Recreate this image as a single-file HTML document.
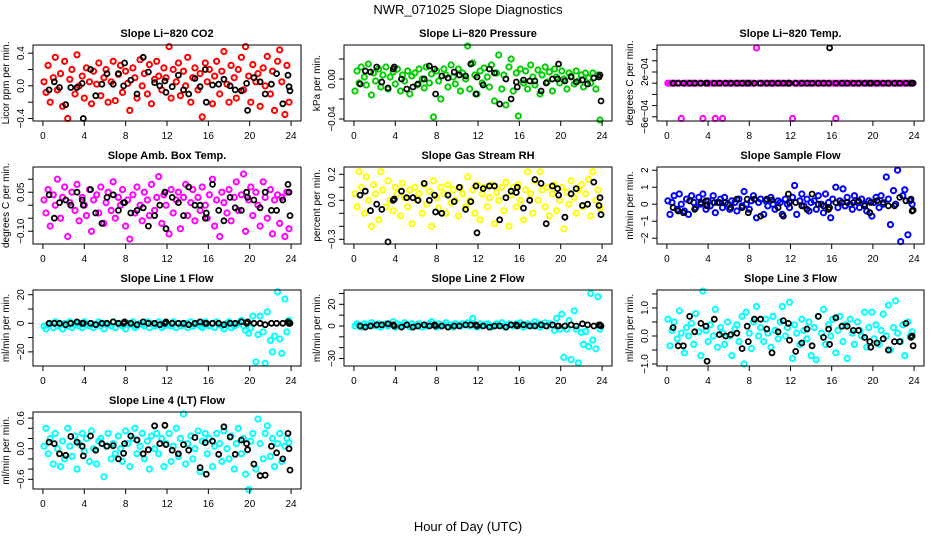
<!DOCTYPE html>
<html><head><meta charset="utf-8"><style>
html,body{margin:0;padding:0;background:#fff}
svg{display:block;font-family:"Liberation Sans",sans-serif}
</style></head><body>
<svg id="chart" width="936" height="540" viewBox="0 0 936 540"></svg>
<script>
// ---- shared time axes (hours UTC) ----
const hours=[0.1,0.3,0.5,0.7,1.0,1.2,1.4,1.7,1.9,2.1,2.4,2.6,2.8,3.1,3.3,3.5,3.8,4.0,4.2,4.5,4.7,4.9,5.2,5.4,5.6,5.9,6.1,6.3,6.6,6.8,7.0,7.3,7.5,7.7,8.0,8.2,8.4,8.7,8.9,9.1,9.4,9.6,9.8,10.1,10.3,10.5,10.8,11.0,11.2,11.5,11.7,11.9,12.2,12.4,12.6,12.9,13.1,13.3,13.6,13.8,14.0,14.3,14.5,14.7,15.0,15.2,15.4,15.7,15.9,16.1,16.4,16.6,16.8,17.1,17.3,17.5,17.8,18.0,18.2,18.5,18.7,18.9,19.2,19.4,19.6,19.9,20.1,20.3,20.6,20.8,21.0,21.3,21.5,21.7,22.0,22.2,22.4,22.7,22.9,23.1,23.4,23.6,23.8];
const blackHours=[0.6,1.1,1.6,2.2,2.7,3.3,3.8,3.9,4.6,5.1,5.7,6.2,6.8,7.3,7.8,7.9,8.5,9.1,9.7,10.2,10.8,11.3,11.8,11.9,12.5,13.1,13.6,14.1,14.7,15.2,15.7,15.8,16.4,17.0,17.5,18.1,18.6,19.2,19.7,19.8,20.4,21.0,21.5,22.1,22.6,23.2,23.7,23.8,23.9];
const xTicks=[0,4,8,12,16,20,24];

// ---- panel 1: CO2 ----
const co2Vals=[0.05,-0.08,0.25,-0.2,0.1,0.35,-0.05,0.15,-0.25,0.3,-0.4,0.08,0.2,-0.1,0.38,0.0,0.12,-0.15,0.22,0.05,-0.22,0.18,0.02,0.28,-0.12,0.1,0.2,-0.2,0.05,0.3,-0.18,0.14,0.25,-0.08,0.18,0.03,-0.3,0.22,0.1,-0.15,0.32,0.0,0.15,-0.1,0.26,-0.22,0.08,0.3,0.12,-0.05,0.22,0.1,0.48,-0.15,0.2,0.05,0.28,-0.12,0.18,0.0,0.35,-0.2,0.1,0.22,-0.05,0.15,-0.38,0.28,0.05,0.2,-0.22,0.12,0.3,-0.1,0.18,0.42,0.02,-0.2,0.25,0.1,-0.15,0.2,0.35,-0.05,0.48,0.12,-0.2,0.26,0.05,0.15,-0.25,0.22,0.0,0.36,-0.1,0.18,-0.3,0.3,0.44,0.05,-0.35,0.25,-0.2];
const co2Black=[-0.05,0.05,-0.02,-0.23,-0.02,-0.02,0.03,-0.4,0.2,-0.12,0.02,0.15,0.02,0.15,0.0,0.28,0.07,-0.1,0.35,0.17,0.04,0.0,0.06,-0.08,-0.01,0.13,-0.05,-0.1,0.09,-0.01,0.2,-0.2,0.01,0.02,0.08,0.0,-0.05,-0.06,0.03,-0.3,0.1,0.05,-0.1,0.02,0.15,-0.22,0.13,-0.01,-0.06];
const co2Ticks=[-0.4,-0.2,0,0.2,0.4];
const co2TickLabels=["\u22120.4","","0.0","","0.4"];

// ---- panel 2: pressure ----
const presVals=[-0.012,0.008,-0.004,0.012,0.002,-0.006,0.015,-0.016,0.006,-0.002,0.01,-0.008,0.004,0.012,-0.01,0.002,0.007,-0.005,0.01,-0.012,0.004,-0.002,0.008,-0.015,0.003,0.006,-0.006,0.01,0.0,-0.009,0.012,-0.004,0.005,-0.038,0.008,-0.002,-0.02,0.01,0.004,-0.008,0.014,0.002,-0.005,0.01,-0.012,0.006,0.0,0.033,-0.01,0.016,0.004,-0.015,0.008,-0.004,0.011,0.002,-0.008,0.014,-0.022,0.006,0.024,-0.01,0.004,-0.026,0.012,0.02,-0.012,0.006,-0.037,0.01,-0.004,0.008,-0.01,0.014,0.002,-0.006,0.009,-0.015,0.004,0.012,-0.003,0.007,-0.012,0.01,0.002,-0.004,0.008,0.0,-0.01,0.006,0.003,-0.005,0.008,-0.002,0.004,-0.008,0.006,0.001,-0.004,0.006,-0.01,0.004,-0.041];
const presBlack=[-0.005,0.008,0.007,0.012,-0.003,-0.009,0.01,0.012,0.0,-0.01,-0.008,-0.005,0.0,0.013,0.01,-0.015,0.003,0.001,0.007,0.004,0.003,0.015,-0.015,0.002,-0.006,0.01,0.006,-0.025,0.0,-0.02,-0.003,-0.008,-0.001,-0.002,-0.002,-0.012,-0.004,0.0,0.0,0.015,-0.002,0.002,-0.003,-0.001,-0.005,0.001,0.002,0.004,-0.022];
const presTicks=[-0.04,-0.02,0,0.02];
const presTickLabels=["\u22120.04","","0.00",""];

// ---- panel 3: Li-820 temp ----
const tempVals=[0,0,0,0,0,0,-0.00063,0,0,0, 0,0,0,0,0,-0.00063,0,0,0,0, -0.00063,0,0,-0.00063,0,0,0,0,0,0, 0,0,0,0,0,0,0,0.00063,0,0, 0,0,0,0,0,0,0,0,0,0, 0,0,-0.00063,0,0,0,0,0,0,0, 0,0,0,0,0,0,0,0,0,0, -0.00063,0,0,0,0,0,0,0,0,0, 0,0,0,0,0,0,0,0,0,0, 0,0,0,0,0,0,0,0,0,0, 0,0,0];
const tempBlack=[0,0,0,0,0,0,0,0,0,0, 0,0,0,0,0,0,0,0,0,0, 0,0,0,0,0,0,0,0,0,0, 0,0.00063,0,0,0,0,0,0,0,0, 0,0,0,0,0,0,0,0,0];
const tempTicks=[-0.0006,-0.0004,-0.0002,0,0.0002,0.0004,0.0006];
const tempTickLabels=["\u22126e\u221204","","","","2e\u221204","",""];

// ---- panel 4: amb box temp ----
const ambVals=[0.02,-0.03,0.06,-0.08,0.04,0.0,0.1,-0.05,0.03,0.07,-0.12,0.01,0.05,-0.02,0.08,-0.06,0.03,0.0,-0.04,0.06,-0.1,0.02,0.04,-0.03,0.07,-0.07,0.01,0.05,-0.02,0.09,-0.05,0.03,0.0,0.06,-0.08,0.02,-0.13,0.04,-0.03,0.07,0.0,-0.06,0.05,0.02,-0.04,0.08,-0.02,0.03,0.11,-0.07,0.04,0.0,-0.11,0.06,-0.03,0.02,0.05,-0.09,0.03,0.08,-0.04,0.01,0.06,-0.06,0.03,-0.02,0.07,0.0,-0.05,0.04,0.1,-0.08,0.02,-0.12,0.05,0.01,-0.03,0.06,-0.06,0.03,0.09,-0.02,0.04,0.12,-0.1,0.02,0.07,-0.04,0.05,0.0,-0.08,0.09,0.03,-0.05,0.06,-0.11,0.02,0.04,-0.07,0.03,-0.12,0.05,-0.09];
const ambBlack=[0.04,-0.05,0.01,0.02,0.0,0.05,0.02,0.0,0.06,-0.03,-0.07,0.03,0.04,-0.02,0.01,0.01,-0.03,-0.02,-0.01,-0.08,-0.04,0.0,0.05,-0.09,0.03,0.01,-0.04,0.07,0.0,0.0,-0.05,-0.03,0.08,-0.02,-0.06,0.03,-0.01,-0.02,0.05,0.03,0.02,-0.01,0.05,-0.02,-0.02,0.02,0.08,0.05,-0.04];
const ambTicks=[-0.1,-0.05,0,0.05,0.1];
const ambTickLabels=["\u22120.10","","","0.05",""];

// ---- panel 5: gas stream RH ----
const rhVals=[0.05,-0.05,0.22,0.1,-0.1,0.18,0.0,-0.2,0.12,0.05,-0.15,0.22,0.08,-0.05,0.15,0.0,-0.08,0.1,0.05,-0.12,0.13,0.02,-0.05,0.08,-0.18,0.1,0.0,0.05,-0.1,0.12,-0.03,0.07,-0.2,0.15,0.02,-0.06,0.1,0.05,-0.1,0.12,-0.02,0.08,0.0,-0.12,0.1,0.05,-0.05,0.18,0.0,0.08,-0.1,0.12,-0.15,0.05,0.1,-0.05,0.02,0.12,-0.18,0.06,0.0,0.1,-0.08,0.14,-0.2,0.04,0.1,-0.05,0.12,0.0,-0.15,0.08,0.22,0.05,-0.1,0.15,0.0,0.22,0.08,-0.05,0.1,-0.12,0.05,0.12,-0.08,0.0,0.1,-0.22,0.06,-0.03,0.15,0.02,-0.1,0.08,0.12,-0.05,0.05,0.16,-0.12,0.22,0.0,0.08,-0.06];
const rhBlack=[0.04,0.07,-0.08,-0.03,-0.07,-0.32,0.0,0.01,0.07,0.02,0.02,0.0,0.13,0.0,0.04,-0.09,-0.1,0.04,-0.01,0.1,-0.07,-0.01,0.11,-0.25,0.09,0.11,0.11,-0.15,0.02,0.07,0.06,0.1,-0.06,0.0,0.16,0.13,-0.18,0.11,0.09,0.04,-0.13,0.05,0.09,-0.04,-0.03,0.14,-0.04,0.02,-0.11];
const rhTicks=[-0.3,-0.2,-0.1,0,0.1,0.2];
const rhTickLabels=["\u22120.3","","","0.0","","0.2"];

// ---- panel 6: sample flow ----
const sampVals=[0.2,-0.6,0.1,0.5,-0.3,0.6,0.0,-0.4,0.3,-0.6,0.5,0.1,-0.2,0.4,0.0,0.6,-0.3,0.2,-0.1,0.5,-0.5,0.1,0.3,-0.2,0.4,0.0,-0.3,0.2,0.1,-0.4,0.3,-0.1,0.75,0.0,-0.3,0.2,0.5,-0.8,0.1,0.3,-0.6,0.2,-0.1,0.4,0.0,-0.3,0.2,0.1,-0.6,0.3,0.0,-0.2,0.4,1.1,-0.6,0.2,0.6,-0.1,0.3,-0.4,0.1,0.2,-0.3,0.5,0.0,-0.5,0.6,0.1,-0.8,0.3,1.0,-0.2,0.2,0.9,-0.1,0.4,0.0,-0.3,0.5,0.1,-0.2,0.3,0.0,-0.4,0.2,-0.7,0.1,0.4,-0.2,0.5,0.0,1.6,0.3,-1.2,0.8,0.0,2.0,-2.2,0.5,0.85,-1.8,0.2,0.0];
const sampBlack=[-0.2,-0.4,-0.5,0.2,-0.3,0.1,0.2,-0.1,0.1,0.1,0.1,-0.2,0.3,-0.2,0.3,-0.5,0.3,-0.7,0.3,0.25,-0.2,-0.7,0.6,0.1,0.1,-0.1,-0.3,0.6,0.0,-0.1,-0.3,-0.2,0.1,0.1,0.1,0.1,0.2,-0.1,-0.5,0.1,0.2,0.1,-0.1,-0.1,0.4,0.2,0.3,-0.4,-0.35];
const sampTicks=[-2,-1,0,1,2];
const sampTickLabels=["\u22122","\u22121","0","1","2"];

// ---- panel 7: line 1 flow ----
const l1Vals=[3,-2,-4,-1,0,-3,1,-2,-1,-4,0,-2,1,-3,-1,0,-2,-3,1,-1,-2,0,-3,-1,1,-2,-4,0,-1,-2,1,-3,0,-1,-2,-4,0,-1,1,-3,-2,0,-1,-2,1,-3,0,-2,-1,1,-3,-2,0,-1,-2,1,-3,0,-2,-1,0,-3,1,-2,-1,0,-2,-3,1,-1,-2,0,-3,1,-1,-2,-4,0,1,-3,-2,-1,0,2,-2,-5,-7,-3,5,-27,-8,5,-6,-28,8,-12,-20,-9,22,-11,-21,17,-6,2];
const l1Black=[0,0,0,-1,0,1,0,0,0,-1,0,0,1,0,0,1,0,-1,1,0,0,-1,0,1,0,0,0,-1,0,1,0,0,0,0,-1,0,0,1,0,1,0,0,-1,0,0,0,1,0,0];
const l1Ticks=[-20,-10,0,10,20];
const l1TickLabels=["\u221220","","0","","20"];

// ---- panel 8: line 2 flow ----
const l2Vals=[1,0,2,1,-1,2,0,1,3,1,0,2,-1,1,2,0,1,4,-1,2,1,0,3,1,-1,2,0,1,2,-1,1,0,2,4,1,-1,2,0,1,3,0,1,-1,2,1,0,2,1,3,0,7,1,-1,2,0,1,2,1,-1,0,2,1,3,0,-1,2,1,0,2,1,3,-1,1,2,0,1,4,2,-1,1,3,0,2,1,-4,7,-3,11,-29,-3,5,-31,14,-3,-34,-6,-17,-5,-19,30,-13,-21,27,-3];
const l2Black=[0,-1,0,1,1,2,1,0,-1,1,-1,0,1,0,1,0,0,-1,0,0,1,1,1,0,0,-1,0,0,-1,1,1,0,1,0,0,1,0,1,0,0,0,1,0,2,1,0,1,1,0];
const l2Ticks=[-30,-20,-10,0,10,20,30];
const l2TickLabels=["\u221230","","","0","","20",""];

// ---- panel 9: line 3 flow ----
const l3Vals=[0.6,-0.35,0.2,0.5,-0.1,0.9,0.1,-0.6,0.3,0.0,0.45,-0.3,0.8,0.15,-0.7,1.6,0.2,-0.2,0.4,0.0,0.95,-0.4,0.3,0.1,-0.3,0.5,0.0,-0.7,0.25,0.4,-0.2,0.7,-1.0,0.85,0.1,-0.45,0.5,1.05,0.0,0.3,-0.2,0.6,0.1,-0.4,0.7,0.2,-0.1,0.5,1.05,0.0,0.3,1.2,-0.8,0.4,0.1,-0.3,0.6,0.2,-0.1,0.5,-0.7,0.3,-0.85,0.7,0.1,0.95,-0.3,0.4,0.0,0.6,-0.6,0.2,0.7,-0.2,0.4,-0.8,0.6,0.1,-0.3,0.5,0.2,0.0,0.85,-0.4,0.3,0.85,-0.1,0.4,-0.3,0.2,0.78,0.0,1.1,-0.5,0.3,1.25,0.1,-0.2,0.4,-0.7,0.5,0.0,0.15];
const l3Black=[0.3,-0.35,-0.35,0.7,0.15,0.45,0.35,-0.9,0.6,0.05,0.0,0.05,0.1,-0.45,0.35,-0.2,0.6,0.6,0.25,-0.6,0.15,0.55,0.45,-0.15,-0.55,-0.25,0.25,-0.35,0.7,-0.05,0.25,-0.3,0.65,0.35,0.35,0.2,0.2,-0.05,-0.2,-0.4,-0.25,-0.1,-0.5,-0.2,-0.2,0.45,-0.05,0.0,-0.35];
const l3Ticks=[-1,-0.5,0,0.5,1,1.5];
const l3TickLabels=["\u22121.0","","0.0","","1.0",""];

// ---- panel 10: line 4 (LT) flow ----
const l4Vals=[0.05,0.4,-0.1,0.2,-0.3,0.3,0.0,-0.35,0.15,-0.2,0.4,0.05,-0.15,0.25,-0.4,0.1,0.3,-0.05,0.2,-0.25,0.35,0.0,-0.3,0.15,0.2,-0.55,0.05,0.3,-0.2,0.1,-0.1,0.25,0.0,-0.25,0.35,0.1,-0.35,0.2,0.4,-0.1,0.05,0.3,-0.2,0.15,-0.4,0.25,0.0,0.3,-0.1,0.2,-0.35,0.1,0.3,-0.25,0.05,0.4,-0.15,0.2,0.68,-0.3,0.1,0.25,-0.2,0.0,0.35,-0.45,0.15,0.3,-0.1,0.2,-0.35,0.05,0.3,0.1,-0.25,0.35,0.0,-0.2,0.25,-0.4,0.1,0.4,-0.1,0.2,-0.5,-0.8,0.15,0.3,-0.4,0.58,0.1,-0.2,0.3,0.45,-0.15,0.2,-0.35,0.1,0.3,-0.25,0.05,0.2,0.12];
const l4Black=[0.13,0.1,-0.1,-0.13,0.24,0.13,0.05,-0.14,0.25,-0.03,0.1,0.05,0.06,-0.2,-0.09,0.1,0.25,0.17,-0.1,-0.02,0.45,0.1,0.46,0.08,-0.03,-0.1,0.08,-0.03,0.22,-0.37,0.12,-0.5,0.15,-0.11,0.43,0.23,-0.11,0.17,0.1,-0.02,-0.3,-0.53,-0.52,0.05,-0.08,-0.2,0.3,0.0,-0.42];
const l4Ticks=[-0.6,-0.4,-0.2,0,0.2,0.4,0.6];
const l4TickLabels=["\u22120.6","","","0.0","","","0.6"];

const NS="http://www.w3.org/2000/svg";
const svg=document.getElementById('chart');
function mk(tag,attrs,parent){const e=document.createElementNS(NS,tag);for(const k in attrs)e.setAttribute(k,attrs[k]);(parent||svg).appendChild(e);return e;}

const colX=[[33,301],[344,612],[657,924]];
const rowY=[[45,121],[167,244],[290,366],[412,489]];
const panels=[
 {id:'co2',title:'Slope Li\u2212820 CO2',ylab:'Licor ppm per min.',col:0,row:0,color:'#ff0000',vals:co2Vals,black:co2Black,ticks:co2Ticks,labels:co2TickLabels,dom:[-0.43,0.50]},
 {id:'pressure',title:'Slope Li\u2212820 Pressure',ylab:'kPa per min.',col:1,row:0,color:'#00cd00',vals:presVals,black:presBlack,ticks:presTicks,labels:presTickLabels,dom:[-0.042,0.034]},
 {id:'li820-temp',title:'Slope Li\u2212820 Temp.',ylab:'degrees C per min.',col:2,row:0,color:'#ff00ff',vals:tempVals,black:tempBlack,ticks:tempTicks,labels:tempTickLabels,dom:[-0.000675,0.000682]},
 {id:'amb-box-temp',title:'Slope Amb. Box Temp.',ylab:'degrees C per min.',col:0,row:1,color:'#ff00ff',vals:ambVals,black:ambBlack,ticks:ambTicks,labels:ambTickLabels,dom:[-0.149,0.147]},
 {id:'gas-stream-rh',title:'Slope Gas Stream RH',ylab:'percent per min.',col:1,row:1,color:'#ffff00',vals:rhVals,black:rhBlack,ticks:rhTicks,labels:rhTickLabels,dom:[-0.336,0.256]},
 {id:'sample-flow',title:'Slope Sample Flow',ylab:'ml/min per min.',col:2,row:1,color:'#0000ff',vals:sampVals,black:sampBlack,ticks:sampTicks,labels:sampTickLabels,dom:[-2.34,2.19]},
 {id:'line1-flow',title:'Slope Line 1 Flow',ylab:'ml/min per min.',col:0,row:2,color:'#00ffff',vals:l1Vals,black:l1Black,ticks:l1Ticks,labels:l1TickLabels,dom:[-29.9,23.3]},
 {id:'line2-flow',title:'Slope Line 2 Flow',ylab:'ml/min per min.',col:1,row:2,color:'#00ffff',vals:l2Vals,black:l2Black,ticks:l2Ticks,labels:l2TickLabels,dom:[-36.9,33.2]},
 {id:'line3-flow',title:'Slope Line 3 Flow',ylab:'ml/min per min.',col:2,row:2,color:'#00ffff',vals:l3Vals,black:l3Black,ticks:l3Ticks,labels:l3TickLabels,dom:[-1.07,1.64]},
 {id:'line4-flow',title:'Slope Line 4 (LT) Flow',ylab:'ml/min per min.',col:0,row:3,color:'#00ffff',vals:l4Vals,black:l4Black,ticks:l4Ticks,labels:l4TickLabels,dom:[-0.79,0.72]}
];

const mt=mk('text',{x:468,y:14,'text-anchor':'middle','font-size':13});
mt.textContent='NWR_071025  Slope Diagnostics';


const xt=mk('text',{x:468,y:531,'text-anchor':'middle','font-size':13});
xt.textContent='Hour of Day (UTC)';



panels.forEach(p=>{
  const [L,R]=colX[p.col],[T,B]=rowY[p.row];
  const sx=v=>L+(v+0.96)/(25.92)*(R-L);
  const sy=v=>B-(v-p.dom[0])/(p.dom[1]-p.dom[0])*(B-T);
  const g=mk('g',{});
  
  
  const t=mk('text',{x:(L+R)/2,y:T-8,'text-anchor':'middle','font-size':11,'font-weight':'bold'},g);
  t.textContent=p.title;
  
  
  const pts=mk('g',{fill:'none',stroke:p.color,'stroke-width':2},g);
  
  
  const off=hours.length-p.vals.length;
  p.vals.forEach((v,i)=>{const h=hours[i+off];if(h===undefined)return;
    const c=mk('circle',{cx:sx(h).toFixed(1),cy:sy(v).toFixed(1),r:2.6},pts);
    
    });
  const bp=mk('g',{fill:'none',stroke:'#000','stroke-width':1.8},g);
  
  
  const offb=blackHours.length-p.black.length;
  p.black.forEach((v,i)=>{const h=blackHours[i+offb];if(h===undefined)return;
    const c=mk('circle',{cx:sx(h).toFixed(1),cy:sy(v).toFixed(1),r:2.5},bp);
    
    });
  const box=mk('rect',{x:L,y:T,width:R-L,height:B-T,fill:'none',stroke:'#000','stroke-width':1},g);
  
  
  const xa=mk('g',{'font-size':10,'text-anchor':'middle'},g);
  
  
  mk('line',{x1:sx(0),x2:sx(24),y1:B,y2:B,stroke:'#000'},xa);
  xTicks.forEach(v=>{mk('line',{x1:sx(v),x2:sx(v),y1:B,y2:B+5,stroke:'#000'},xa);
    const tl=mk('text',{x:sx(v),y:B+18},xa);tl.textContent=v;
    
    });
  const ya=mk('g',{'font-size':10,'text-anchor':'middle'},g);
  
  
  mk('line',{x1:L,x2:L,y1:sy(p.ticks[0]),y2:sy(p.ticks[p.ticks.length-1]),stroke:'#000'},ya);
  p.ticks.forEach((v,i)=>{const y=sy(v);
    mk('line',{x1:L-5,x2:L,y1:y,y2:y,stroke:'#000'},ya);
    if(p.labels[i]){const tl=mk('text',{x:0,y:0,transform:`translate(${L-9},${y}) rotate(-90)`},ya);
      tl.textContent=p.labels[i];
      
      }});
  const yl=mk('text',{x:0,y:0,'font-size':10,'text-anchor':'middle',transform:`translate(${L-24},${(T+B)/2}) rotate(-90)`},g);
  yl.textContent=p.ylab;
  
  
});
</script>
</body></html>
